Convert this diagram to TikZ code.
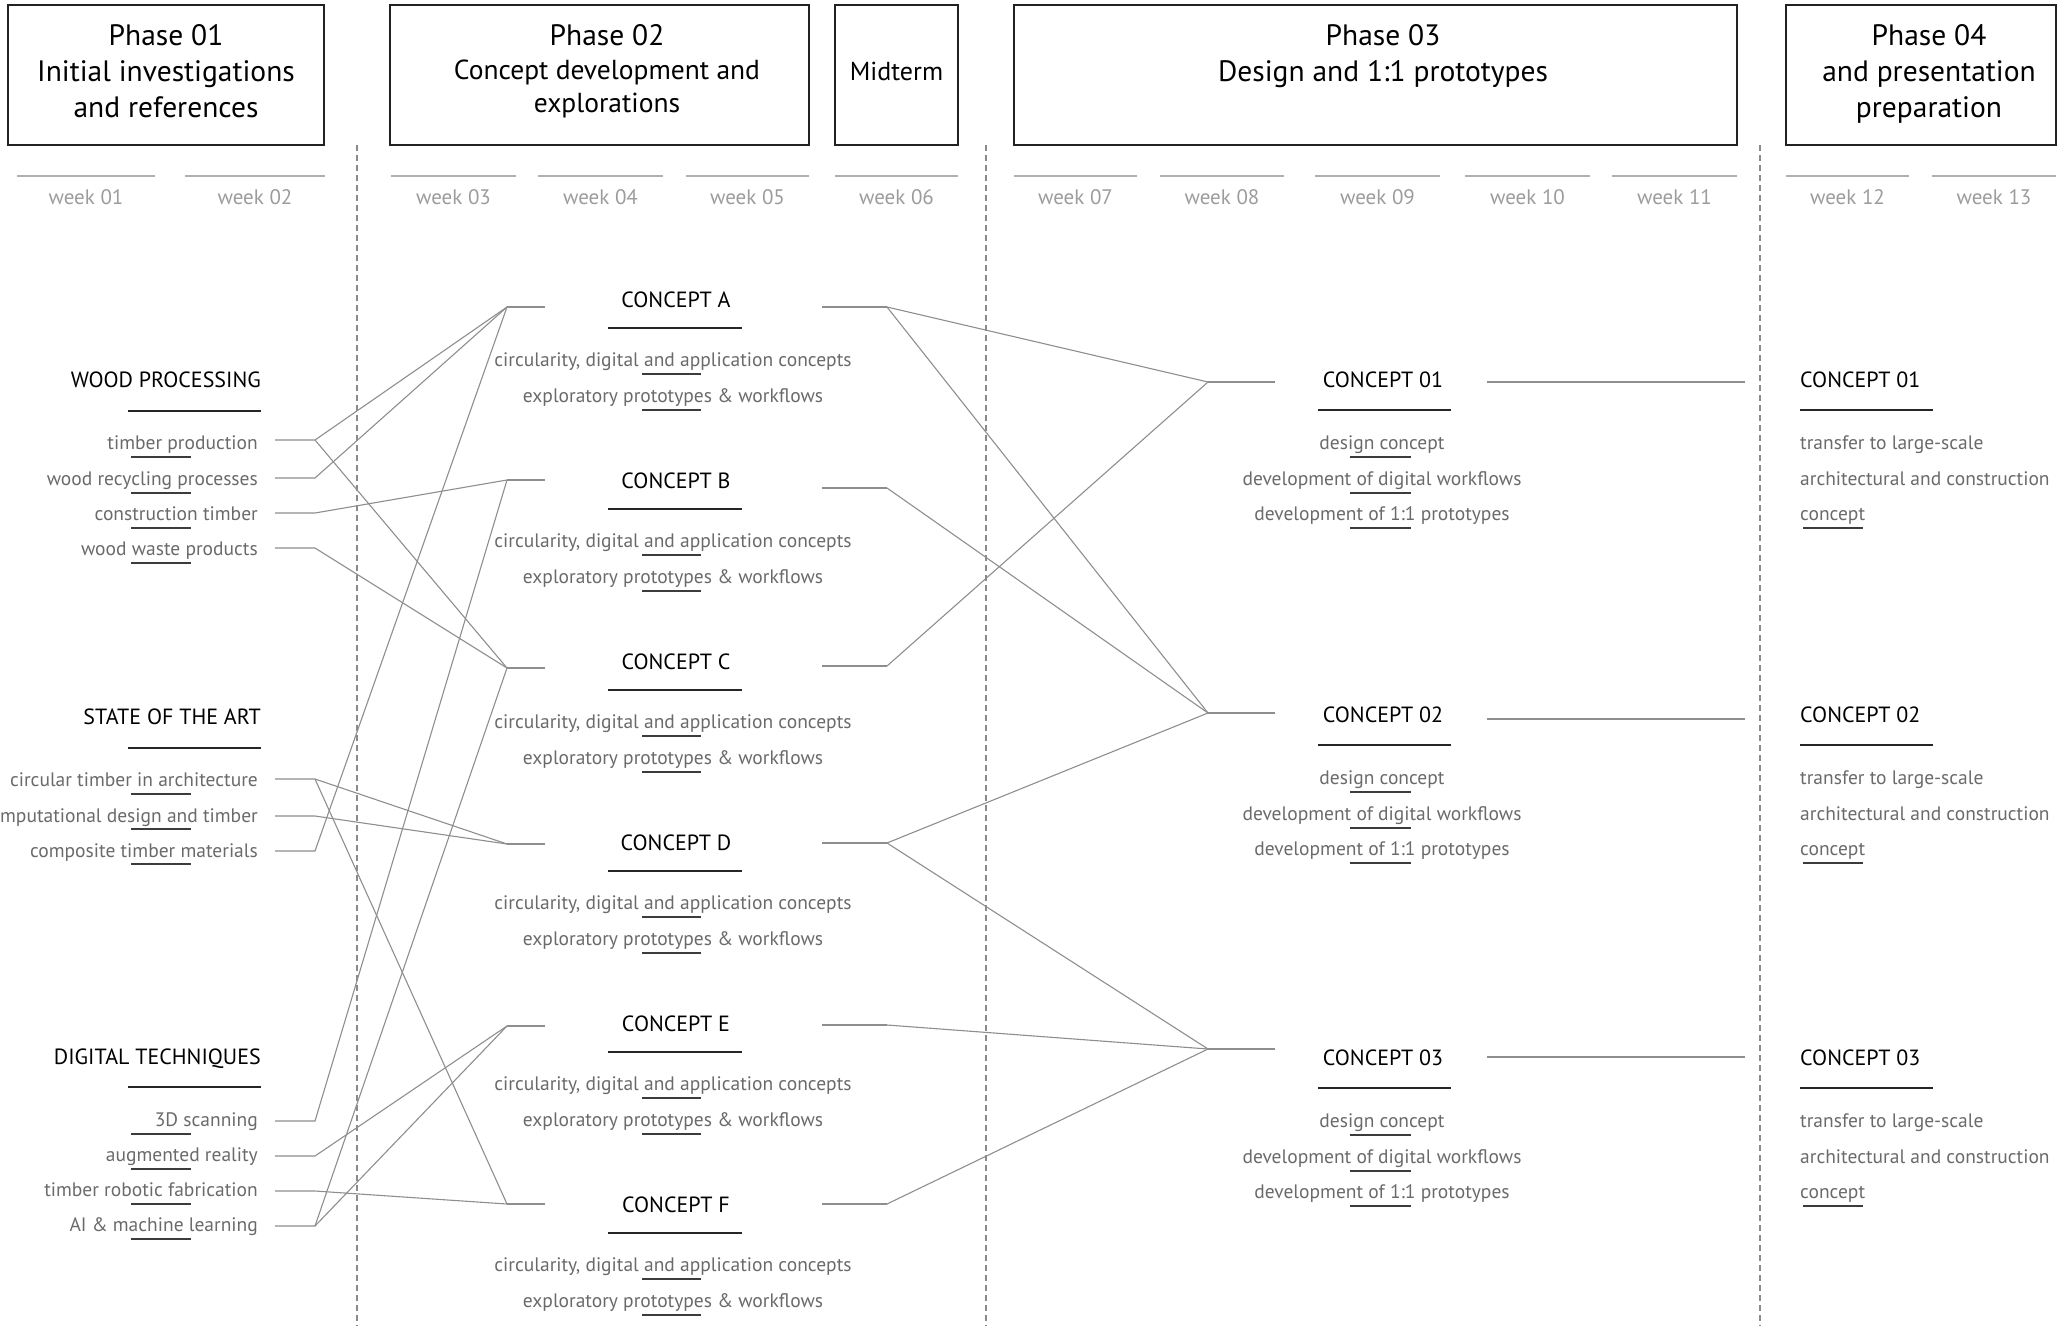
\documentclass[tikz,border=0pt]{standalone}
\usepackage{fontspec}
\setmainfont{PT Sans}
\definecolor{boxc}{HTML}{222222}
\definecolor{bodyc}{HTML}{6A6A6A}
\definecolor{weekc}{HTML}{9C9C9C}
\definecolor{wlinec}{HTML}{B0B0B0}
\definecolor{linec}{HTML}{8E8E8E}
\definecolor{ulc}{HTML}{3C3C3C}
\definecolor{dashc}{HTML}{8A8A8A}
\tikzset{
  hbox/.style={draw=boxc, line width=1.8pt, inner sep=0pt},
  htxt/.style={align=center, inner sep=0pt, text=black, font=\fontsize{29.5}{36}\selectfont},
  weektxt/.style={text=weekc, inner sep=0pt, font=\fontsize{21}{24}\selectfont},
  weekline/.style={draw=wlinec, line width=1.5pt},
  dashline/.style={draw=dashc, line width=1.1pt, dash pattern=on 6pt off 4pt},
  headtxt/.style={text=black, inner sep=0pt, anchor=east, text height=0.7em, text depth=0.2em,
    yshift=-5pt, font=\fontsize{22}{26}\selectfont},
  itemtxt/.style={text=bodyc, inner sep=0pt, anchor=east, text height=0.7em, text depth=0.2em,
    yshift=-4.5pt, font=\fontsize{19.5}{24}\selectfont},
  ctitle/.style={text=black, inner sep=0pt, text height=0.7em, text depth=0.2em,
    yshift=-5pt, font=\fontsize{22}{26}\selectfont},
  bodytxt/.style={text=bodyc, inner sep=0pt, text height=0.7em, text depth=0.2em,
    yshift=-5pt, font=\fontsize{19.5}{24}\selectfont},
  bodyleft/.style={bodytxt, anchor=west},
  titleul/.style={draw=black!85, line width=2.2pt},
  smallul/.style={draw=ulc, line width=1.8pt},
  conn/.style={draw=linec, line width=1.1pt},
}
\begin{document}
\begin{tikzpicture}[x=1pt,y=-1pt]
\useasboundingbox (0,0) rectangle (2065,1326);
\clip (0,0) rectangle (2065,1326);

% ---------- header boxes ----------
\node[hbox, minimum width=316pt, minimum height=140pt] (p1) at (166,75) {};
\node[hbox, minimum width=419pt, minimum height=140pt] (p2) at (599.5,75) {};
\node[hbox, minimum width=123pt, minimum height=140pt] (mid) at (896.5,75) {};
\node[hbox, minimum width=723pt, minimum height=140pt] (p3) at (1375.5,75) {};
\node[hbox, minimum width=270pt, minimum height=140pt] (p4) at (1921,75) {};

\node[htxt, anchor=base] (p1a) at (166,45) {Phase 01};
\node[htxt, anchor=base] (p1b) at (166,81) {Initial investigations};
\node[htxt, anchor=base] (p1c) at (166,117) {and references};

\node[htxt, anchor=base] (p2a) at (607,45) {Phase 02};
\node[htxt, anchor=base, font=\fontsize{27.5}{33}\selectfont] (p2b) at (607,79) {Concept development and};
\node[htxt, anchor=base, font=\fontsize{27.5}{33}\selectfont] (p2c) at (607,112) {explorations};

\node[htxt, anchor=base, font=\fontsize{26}{33}\selectfont] (midt) at (896.5,80) {Midterm};

\node[htxt, anchor=base] (p3a) at (1383,45) {Phase 03};
\node[htxt, anchor=base] (p3b) at (1383,81) {Design and 1:1 prototypes};

\node[htxt, anchor=base] (p4a) at (1929,45) {Phase 04};
\node[htxt, anchor=base] (p4b) at (1929,81) {and presentation};
\node[htxt, anchor=base] (p4c) at (1929,117) {preparation};

% ---------- weeks ----------
\foreach \a/\b/\t [count=\i] in {17/155/week 01, 185/325/week 02, 391/516/week 03, 538/663/week 04,
  686/809/week 05, 835/958/week 06, 1014/1137/week 07, 1160/1284/week 08, 1315/1440/week 09,
  1465/1590/week 10, 1612/1737/week 11, 1786/1909/week 12, 1932/2056/week 13}{
  \draw[weekline] (\a,176) -- (\b,176);
  \node[weektxt] (wk\i) at ({(\a+\b)/2},197) {\t};
}

% ---------- dashed phase separators ----------
\draw[dashline] (357,145) -- (357,1326);
\draw[dashline] (986,145) -- (986,1326);
\draw[dashline] (1760,145) -- (1760,1326);

% ---------- left column ----------
\node[headtxt] (hwp) at (261,380) {WOOD PROCESSING};
\draw[titleul] (128,411) -- (261,411);
\node[itemtxt] (tp) at (258,442) {timber production};
\node[itemtxt] (wr) at (258,478) {wood recycling processes};
\node[itemtxt] (ct) at (258,513) {construction timber};
\node[itemtxt] (ww) at (258,548) {wood waste products};
\foreach \y in {457,493,528,563} \draw[smallul] (131,\y) -- (191,\y);

\node[headtxt] (hsa) at (261,717) {STATE OF THE ART};
\draw[titleul] (128,748) -- (261,748);
\node[itemtxt] (ci) at (258,779) {circular timber in architecture};
\node[itemtxt] (cd) at (258,815) {computational design and timber};
\node[itemtxt] (cm) at (258,850) {composite timber materials};
\foreach \y in {794,829,864} \draw[smallul] (131,\y) -- (191,\y);

\node[headtxt] (hdt) at (261,1057) {DIGITAL TECHNIQUES};
\draw[titleul] (128,1087) -- (261,1087);
\node[itemtxt] (sc) at (258,1119) {3D scanning};
\node[itemtxt] (ar) at (258,1154) {augmented reality};
\node[itemtxt] (rf) at (258,1189) {timber robotic fabrication};
\node[itemtxt] (ai) at (258,1224) {AI \& machine learning};
\foreach \y in {1134,1169,1204,1239} \draw[smallul] (131,\y) -- (191,\y);

% item stub coordinates
\foreach \n/\y in {tp/440, wr/478, ct/513, ww/548, ci/779, cd/816, cm/851, sc/1121, ar/1156, rf/1191, ai/1226}{
  \coordinate (\n-s) at (275,\y);
  \coordinate (\n-e) at (315,\y);
}

% ---------- Phase 02 concepts ----------
\foreach \L/\t/\yl/\yr [count=\k from 0] in {A/A/307/307, B/B/480/488, C/C/668/666, D/D/844/843, E/E/1026/1025, F/F/1204/1204}{
  \pgfmathsetmacro{\ty}{300+181*\k}
  \node[ctitle] (c\L) at (676,\ty) {CONCEPT \t};
  \draw[titleul] (608,\ty+28) -- (742,\ty+28);
  \node[bodytxt] (c\L-1) at (673,\ty+59) {circularity, digital and application concepts};
  \node[bodytxt] (c\L-2) at (673,\ty+95) {exploratory prototypes \& workflows};
  \draw[smallul] (642,\ty+74) -- (701,\ty+74);
  \draw[smallul] (642,\ty+110) -- (701,\ty+110);
  \coordinate (\L-l) at (507,\yl);
  \coordinate (\L-ls) at (545,\yl);
  \coordinate (\L-rs) at (822,\yr);
  \coordinate (\L-r) at (887,\yr);
  \draw[conn] (\L-l) -- (\L-ls);
  \draw[conn] (\L-rs) -- (\L-r);
}

% ---------- Phase 03 and Phase 04 concepts ----------
\foreach \n/\ty/\yl/\yr in {01/380/382/382, 02/715/713/719, 03/1058/1049/1057}{
  \node[ctitle] (d\n) at (1383,\ty) {CONCEPT \n};
  \draw[titleul] (1318,\ty+30) -- (1451,\ty+30);
  \node[bodytxt] (d\n-1) at (1382,\ty+62) {design concept};
  \node[bodytxt] (d\n-2) at (1382,\ty+98) {development of digital workflows};
  \node[bodytxt] (d\n-3) at (1382,\ty+133) {development of 1:1 prototypes};
  \foreach \o in {77,113,148} \draw[smallul] (1350,\ty+\o) -- (1411,\ty+\o);
  \coordinate (P\n-l) at (1208,\yl);
  \coordinate (P\n-ls) at (1275,\yl);
  \coordinate (P\n-rs) at (1487,\yr);
  \coordinate (P\n-r) at (1745,\yr);
  \draw[conn] (P\n-l) -- (P\n-ls);
  \draw[conn] (P\n-rs) -- (P\n-r);
  \node[ctitle, anchor=west] (e\n) at (1800,\ty) {CONCEPT \n};
  \draw[titleul] (1800,\ty+30) -- (1933,\ty+30);
  \node[bodyleft] (e\n-1) at (1800,\ty+62) {transfer to large-scale};
  \node[bodyleft] (e\n-2) at (1800,\ty+98) {architectural and construction};
  \node[bodyleft] (e\n-3) at (1800,\ty+133) {concept};
  \draw[smallul] (1803,\ty+148) -- (1863,\ty+148);
}

% ---------- connectors: items -> Phase 02 ----------
\draw[conn] (tp-s) -- (tp-e) -- (A-l);
\draw[conn] (tp-e) -- (C-l);
\draw[conn] (wr-s) -- (wr-e) -- (A-l);
\draw[conn] (ct-s) -- (ct-e) -- (B-l);
\draw[conn] (ww-s) -- (ww-e) -- (C-l);
\draw[conn] (ci-s) -- (ci-e) -- (D-l);
\draw[conn] (ci-e) -- (F-l);
\draw[conn] (cd-s) -- (cd-e) -- (D-l);
\draw[conn] (cm-s) -- (cm-e) -- (A-l);
\draw[conn] (sc-s) -- (sc-e) -- (B-l);
\draw[conn] (ar-s) -- (ar-e) -- (E-l);
\draw[conn] (rf-s) -- (rf-e) -- (F-l);
\draw[conn] (ai-s) -- (ai-e) -- (C-l);
\draw[conn] (ai-e) -- (E-l);

% ---------- connectors: Phase 02 -> Phase 03 ----------
\draw[conn] (A-r) -- (P01-l);
\draw[conn] (A-r) -- (P02-l);
\draw[conn] (B-r) -- (P02-l);
\draw[conn] (C-r) -- (P01-l);
\draw[conn] (D-r) -- (P02-l);
\draw[conn] (D-r) -- (P03-l);
\draw[conn] (E-r) -- (P03-l);
\draw[conn] (F-r) -- (P03-l);
\end{tikzpicture}
\end{document}
